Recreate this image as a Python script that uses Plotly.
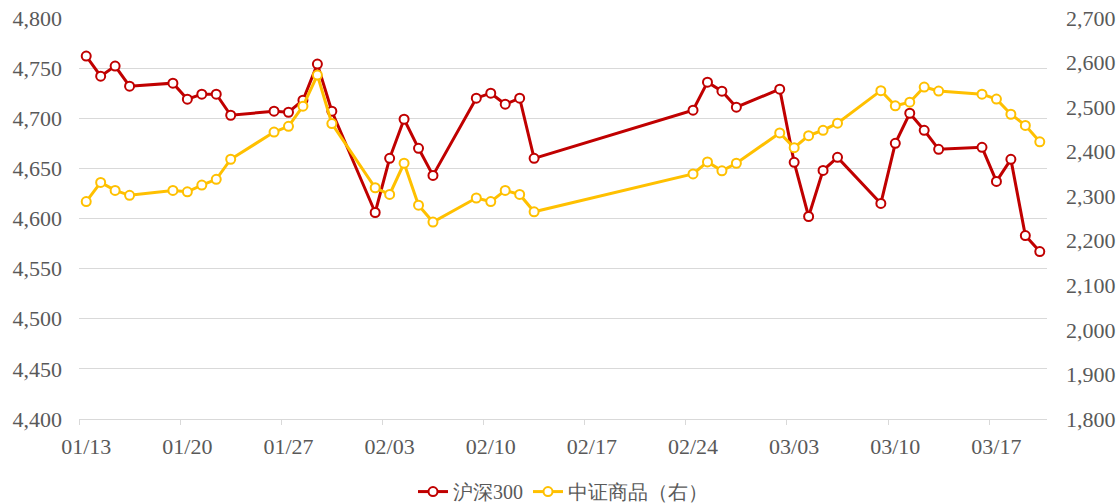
import plotly.graph_objects as go

dates = [
    "2026-01-13", "2026-01-14", "2026-01-15", "2026-01-16",
    "2026-01-19", "2026-01-20", "2026-01-21", "2026-01-22", "2026-01-23",
    "2026-01-26", "2026-01-27", "2026-01-28", "2026-01-29", "2026-01-30",
    "2026-02-02", "2026-02-03", "2026-02-04", "2026-02-05", "2026-02-06",
    "2026-02-09", "2026-02-10", "2026-02-11", "2026-02-12", "2026-02-13",
    "2026-02-24", "2026-02-25", "2026-02-26", "2026-02-27",
    "2026-03-02", "2026-03-03", "2026-03-04", "2026-03-05", "2026-03-06",
    "2026-03-09", "2026-03-10", "2026-03-11", "2026-03-12", "2026-03-13",
    "2026-03-16", "2026-03-17", "2026-03-18", "2026-03-19", "2026-03-20",
]

hs300 = [
    4762, 4742, 4752, 4732,
    4735, 4719, 4724, 4724, 4703,
    4707, 4706, 4718, 4754, 4707,
    4606, 4660, 4699, 4670, 4643,
    4720, 4725, 4714, 4720, 4660,
    4708, 4736, 4727, 4711,
    4729, 4656, 4602, 4648, 4661,
    4615, 4675, 4705, 4688, 4669,
    4671, 4637, 4659, 4583, 4567,
]

zz_commodity = [
    2288, 2331, 2313, 2302,
    2313, 2310, 2325, 2338, 2383,
    2444, 2457, 2502, 2572, 2463,
    2319, 2304, 2374, 2280, 2242,
    2296, 2288, 2313, 2304, 2265,
    2350, 2377, 2357, 2374,
    2442, 2409, 2436, 2448, 2464,
    2537, 2503, 2511, 2545, 2536,
    2529, 2518, 2484, 2459, 2422,
]

tick_dates = ["2026-01-13", "2026-01-20", "2026-01-27", "2026-02-03", "2026-02-10",
              "2026-02-17", "2026-02-24", "2026-03-03", "2026-03-10", "2026-03-17"]
tick_labels = ["01/13", "01/20", "01/27", "02/03", "02/10",
               "02/17", "02/24", "03/03", "03/10", "03/17"]

left_ticks = [4400, 4450, 4500, 4550, 4600, 4650, 4700, 4750, 4800]
right_ticks = [1800, 1900, 2000, 2100, 2200, 2300, 2400, 2500, 2600, 2700]

RED = "#C00000"
GOLD = "#FFC000"
GRID = "#D9D9D9"
TXT = "#595959"
FONT = "Liberation Serif"
FS = 22

fig = go.Figure()
fig.add_trace(go.Scatter(
    x=dates, y=hs300, name="沪深300", mode="lines+markers",
    line=dict(color=RED, width=3),
    marker=dict(symbol="circle", size=9, color="white", line=dict(color=RED, width=2)),
    yaxis="y",
))
fig.add_trace(go.Scatter(
    x=dates, y=zz_commodity, name="中证商品（右）", mode="lines+markers",
    line=dict(color=GOLD, width=3),
    marker=dict(symbol="circle", size=9, color="white", line=dict(color=GOLD, width=2)),
    yaxis="y2",
))

fig.update_layout(
    width=1119, height=504,
    margin=dict(l=79, r=72, t=18, b=85, autoexpand=False),
    paper_bgcolor="white", plot_bgcolor="white",
    font=dict(family=FONT, size=FS, color=TXT),
    showlegend=True,
    legend=dict(orientation="h", x=0.5, xanchor="center", y=-0.181, yanchor="middle",
                font=dict(family=FONT, size=20, color=TXT), bgcolor="rgba(0,0,0,0)"),
    xaxis=dict(
        type="date", automargin=False,
        range=["2026-01-12 12:00", "2026-03-20 12:00"],
        tickvals=tick_dates, ticktext=tick_labels,
        ticks="", showgrid=False, zeroline=False,
        showline=True, linecolor=GRID, linewidth=1.3,
        ticklabelstandoff=7,
        tickfont=dict(family=FONT, size=FS, color=TXT),
        minor=dict(ticks="outside", ticklen=5, tickcolor=GRID, tickwidth=1.3,
                   tick0="2026-01-12 12:00", dtick=7 * 86400000, showgrid=False),
    ),
    yaxis=dict(
        range=[4400, 4800], tickvals=left_ticks, tickformat=",d", automargin=False,
        showgrid=True, gridcolor=GRID, gridwidth=1.3, zeroline=False,
        showline=False, ticks="", ticklabelstandoff=16,
        tickfont=dict(family=FONT, size=FS, color=TXT),
    ),
    yaxis2=dict(
        range=[1800, 2700], tickvals=right_ticks, tickformat=",d", automargin=False,
        overlaying="y", side="right", showgrid=False, zeroline=False,
        showline=False, ticks="", ticklabelstandoff=18,
        tickfont=dict(family=FONT, size=FS, color=TXT),
    ),
)

fig.write_html(
    "out.html",
    config={"displayModeBar": False},
    post_script="document.body.style.margin='0';document.body.style.overflow='hidden';",
)
